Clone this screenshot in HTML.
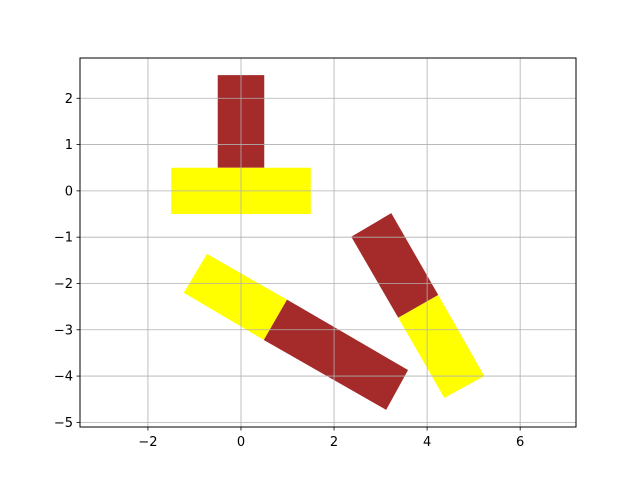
<!DOCTYPE html>
<html><head><meta charset="utf-8"><style>
body{margin:0;background:#fff}
svg{display:block;font-family:"DejaVu Sans","Liberation Sans",sans-serif}
</style></head><body>
<svg id="chart" width="640" height="480" xmlns="http://www.w3.org/2000/svg">
<rect x="0" y="0" width="640" height="480" fill="#fff"/>
<g id="shapes"></g>
<g id="grid"></g>
<rect x="80" y="58" width="496" height="369" fill="none" stroke="#000" stroke-width="1"/>
<g id="ticks"></g>
</svg>
<script>
const xTicks=[-2,0,2,4,6];
const yTicks=[2,1,0,-1,-2,-3,-4,-5];
const shapeColors=["#a52a2a","#ffff00","#ffff00","#a52a2a","#a52a2a","#ffff00"];
const shapeNames=["t1-stem","t1-bar","t2-yellow","t2-red","t3-red","t3-yellow"];
const shapeXs=[[-0.5,0.5,0.5,-0.5],[-1.5,1.5,1.5,-1.5],[-0.73,-1.23,0.49,0.99],[0.99,0.49,3.12,3.59],[2.37,3.23,4.24,3.38],[3.38,4.24,5.23,4.37]];
const shapeYs=[[0.5,0.5,2.5,2.5],[-0.5,-0.5,0.5,0.5],[-1.36,-2.2,-3.22,-2.35],[-2.35,-3.22,-4.73,-3.87],[-0.99,-0.48,-2.25,-2.74],[-2.74,-2.25,-4.0,-4.47]];
const X0=80,X1=576,Y0=58,Y1=427,xmin=-3.46,xmax=7.2,ymin=-5.1,ymax=2.87;
const sx=v=>X0+(v-xmin)/(xmax-xmin)*(X1-X0);
const sy=v=>Y1-(v-ymin)/(ymax-ymin)*(Y1-Y0);
const NS="http://www.w3.org/2000/svg";
const mk=(t,a,p)=>{const e=document.createElementNS(NS,t);for(const k in a)e.setAttribute(k,a[k]);p.appendChild(e);return e;};
const S=document.getElementById('shapes'),G=document.getElementById('grid'),T=document.getElementById('ticks');
shapeXs.forEach((xs,i)=>{
 const pts=xs.map((x,j)=>sx(x)+","+sy(shapeYs[i][j])).join(" ");
 const p=mk('polygon',{points:pts,fill:shapeColors[i]},S);
 
 
});
xTicks.forEach(v=>{
 const x=sx(v);
 const l=mk('line',{x1:x,x2:x,y1:Y0,y2:Y1,stroke:'#b0b0b0','stroke-width':0.8},G);
 
 
 const t=mk('line',{x1:x,x2:x,y1:Y1,y2:Y1+3.5,stroke:'#000','stroke-width':0.8},T);
 
 
 const tx=mk('text',{x:x,y:Y1+19,'text-anchor':'middle','font-size':'13px',fill:'#000'},T);
 tx.textContent=(v<0?"\u2212"+(-v):v);
 
 
});
yTicks.forEach(v=>{
 const y=sy(v);
 const l=mk('line',{x1:X0,x2:X1,y1:y,y2:y,stroke:'#b0b0b0','stroke-width':0.8},G);
 
 
 const t=mk('line',{x1:X0-3.5,x2:X0,y1:y,y2:y,stroke:'#000','stroke-width':0.8},T);
 
 
 const tx=mk('text',{x:X0-7,y:y+4.5,'text-anchor':'end','font-size':'13px',fill:'#000'},T);
 tx.textContent=(v<0?"\u2212"+(-v):v);
 
 
});
</script>
</body></html>
